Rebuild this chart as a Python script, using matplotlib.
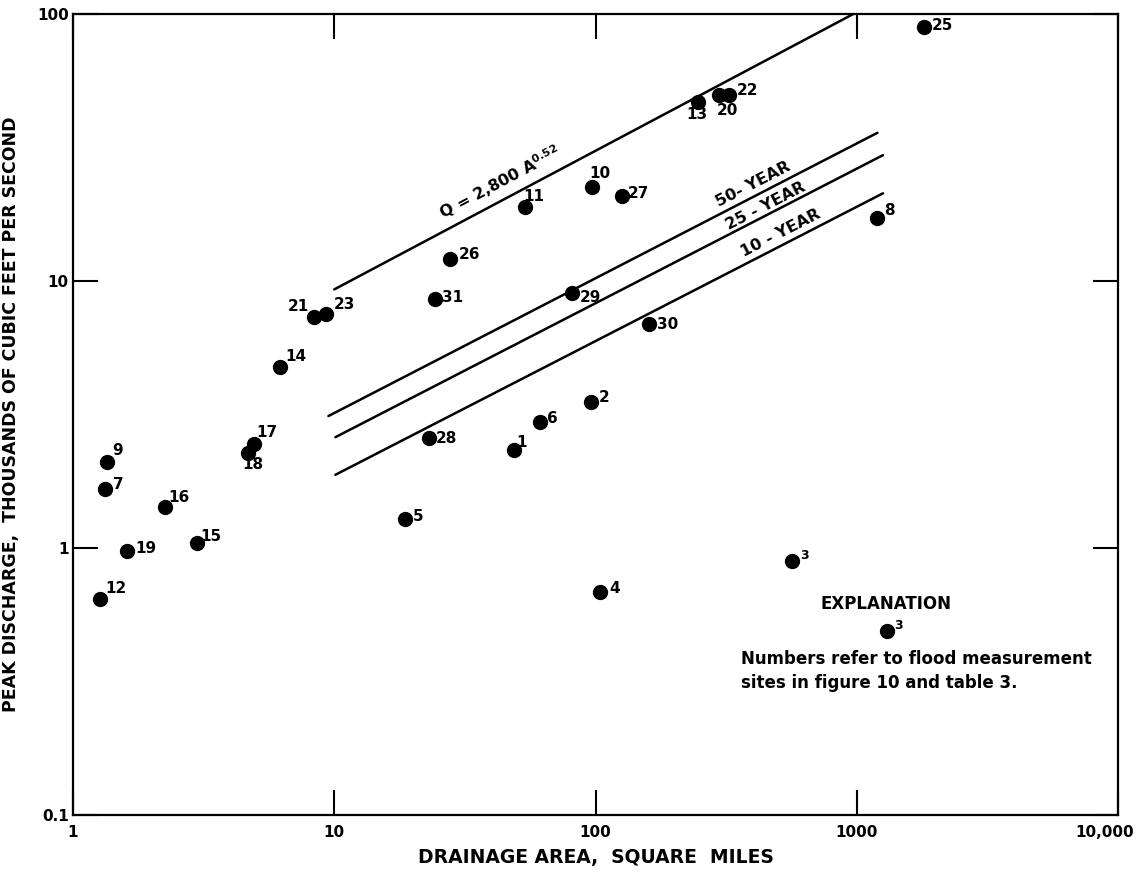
import matplotlib
matplotlib.use("Agg")
import matplotlib.pyplot as plt
import matplotlib.transforms as mtransforms
import numpy as np

# ---------------- data ----------------
site_ids = ['1', '2', '3', '4', '5', '6', '7', '8', '9', '10',
            '11', '12', '13', '14', '15', '16', '17', '18', '19', '20',
            '21', '22', '23', '25', '26', '27', '28', '29', '30', '31']
drainage_area = [48.6, 96.3, 564, 104, 18.7, 61.5, 1.33, 1200, 1.35, 97,
                 53.9, 1.27, 247, 6.21, 2.98, 2.24, 4.91, 4.69, 1.61, 296,
                 8.33, 323, 9.32, 1806, 27.8, 126.6, 23.0, 81.4, 160, 24.4]
peak_discharge = [2.32, 3.52, 0.894, 0.686, 1.28, 2.97, 1.67, 17.2, 2.10, 22.5,
                  19.0, 0.644, 46.9, 4.77, 1.04, 1.42, 2.45, 2.27, 0.977, 49.7,
                  7.36, 49.7, 7.53, 89.4, 12.05, 20.8, 2.58, 9.01, 6.89, 8.58]

envelope_area = [10, 970]
envelope_q = [9.3, 100]
freq50_area = [9.5, 1200]
freq50_q = [3.12, 35.9]
freq25_area = [10.1, 1260]
freq25_q = [2.60, 29.6]
freq10_area = [10.1, 1260]
freq10_q = [1.88, 21.3]

x_ticks = [1, 10, 100, 1000, 10000]
x_ticklabels = ['1', '10', '100', '1000', '10,000']
y_ticks = [0.1, 1, 10, 100]
y_ticklabels = ['0.1', '1', '10', '100']

# ---------------- label placement (pixel offsets: dx, dy-up, ha) ----------------
label_offsets = {
    '1': (8, 8, 'center'), '2': (8, 5, 'left'), '3': (8, 5, 'left'),
    '4': (9, 3, 'left'), '5': (8, 3, 'left'), '6': (7, 3, 'left'),
    '7': (8, 4, 'left'), '8': (7, 8, 'left'), '9': (5, 11, 'left'),
    '10': (8, 13, 'center'), '11': (8, 10, 'center'), '12': (5, 11, 'left'),
    '13': (-1, -13, 'center'), '14': (5, 10, 'left'), '15': (3, 7, 'left'),
    '16': (4, 10, 'left'), '17': (3, 12, 'left'), '18': (5, -12, 'center'),
    '19': (8, 2, 'left'), '20': (9, -15, 'center'), '21': (-5, 10, 'right'),
    '22': (8, 5, 'left'), '23': (7, 9, 'left'), '25': (8, 1, 'left'),
    '26': (8, 5, 'left'), '27': (5, 3, 'left'), '28': (7, 0, 'left'),
    '29': (8, -4, 'left'), '30': (8, 0, 'left'), '31': (7, 1, 'left'),
}

plt.rcParams['font.family'] = ['DejaVu Sans']
W, H = 1138, 875
fig = plt.figure(figsize=(W / 100, H / 100), dpi=100)
ax_l, ax_r, ax_t, ax_b = 73, 1118, 14, 815
ax = fig.add_axes([ax_l / W, 1 - ax_b / H, (ax_r - ax_l) / W, (ax_b - ax_t) / H])
ax.set_xscale('log')
ax.set_yscale('log')
ax.set_xlim(1, 10000)
ax.set_ylim(0.1, 100)

for s in ax.spines.values():
    s.set_linewidth(1.6)
ax.set_xticks(x_ticks)
ax.set_xticklabels(x_ticklabels)
ax.set_yticks(y_ticks)
ax.set_yticklabels(y_ticklabels)
ax.minorticks_off()
ax.tick_params(which='major', direction='in', length=18, width=1.5,
               top=True, right=True, labelsize=11, colors='black')
ax.tick_params(axis='x', pad=7)
ax.tick_params(axis='y', pad=3)
for lab in ax.get_xticklabels() + ax.get_yticklabels():
    lab.set_fontweight('bold')
# keep the last x tick label inside the figure, as in the reference
last = ax.get_xticklabels()[-1]
last.set_transform(last.get_transform() +
                   mtransforms.ScaledTranslation(-13 / 100, 0, fig.dpi_scale_trans))

ax.set_xlabel('DRAINAGE AREA,  SQUARE  MILES', fontsize=13.5, fontweight='bold', labelpad=6)
ax.set_ylabel('PEAK DISCHARGE,  THOUSANDS OF CUBIC FEET PER SECOND', fontsize=12.5,
              fontweight='bold', labelpad=12)

lw = 1.8
ax.plot(envelope_area, envelope_q, color='black', lw=lw, solid_capstyle='round')
ax.plot(freq50_area, freq50_q, color='black', lw=lw, solid_capstyle='round')
ax.plot(freq25_area, freq25_q, color='black', lw=lw, solid_capstyle='round')
ax.plot(freq10_area, freq10_q, color='black', lw=lw, solid_capstyle='round')

ax.plot(drainage_area, peak_discharge, 'o', color='black', ms=10, clip_on=False)

px2pt = 0.72
for sid, xa, yq in zip(site_ids, drainage_area, peak_discharge):
    dx, dy, ha = label_offsets[sid]
    fs = 9 if sid == '3' else 11
    ax.annotate(sid, (xa, yq), xytext=(dx * px2pt, dy * px2pt), textcoords='offset points',
                ha=ha, va='center', fontsize=fs, fontweight='bold')


def line_angle(xs, ys):
    p1 = ax.transData.transform((xs[0], ys[0]))
    p2 = ax.transData.transform((xs[1], ys[1]))
    return np.degrees(np.arctan2(p2[1] - p1[1], p2[0] - p1[0]))


def on_line(xs, ys, xq):
    t = (np.log10(xq) - np.log10(xs[0])) / (np.log10(xs[1]) - np.log10(xs[0]))
    return 10 ** (np.log10(ys[0]) + t * (np.log10(ys[1]) - np.log10(ys[0])))


def line_label(text, xs, ys, xq, dist_px, fs=11.5):
    ang = line_angle(xs, ys)
    th = np.radians(ang)
    off = (-np.sin(th) * dist_px * px2pt, np.cos(th) * dist_px * px2pt)
    ax.annotate(text, (xq, on_line(xs, ys, xq)), xytext=off, textcoords='offset points',
                rotation=ang, rotation_mode='anchor', ha='center', va='center',
                fontsize=fs, fontweight='bold')


line_label('50- YEAR', freq50_area, freq50_q, 418, 11)
line_label('25 - YEAR', freq25_area, freq25_q, 464, 9)
line_label('10 - YEAR', freq10_area, freq10_q, 535, 11)
line_label(r'Q = 2,800 A$^{\mathbf{0.52}}$', envelope_area, envelope_q, 46.4, 17, fs=11.5)

# ---------------- explanation ----------------
ax.text(0.778, 0.2634, 'EXPLANATION', transform=ax.transAxes, ha='center', va='center',
        fontsize=12, fontweight='bold')
ax.plot([0.7785], [0.2302], 'o', color='black', ms=10, transform=ax.transAxes)
ax.annotate('3', (0.7785, 0.2302), xycoords='axes fraction', xytext=(8 * px2pt, 5 * px2pt),
            textcoords='offset points', ha='left', va='center', fontsize=9, fontweight='bold')
ax.text(0.639, 0.1948, 'Numbers refer to flood measurement', transform=ax.transAxes,
        ha='left', va='center', fontsize=12, fontweight='bold')
ax.text(0.639, 0.1654, 'sites in figure 10 and table 3.', transform=ax.transAxes,
        ha='left', va='center', fontsize=12, fontweight='bold')

fig.savefig('out.png', dpi=100, facecolor='white')
